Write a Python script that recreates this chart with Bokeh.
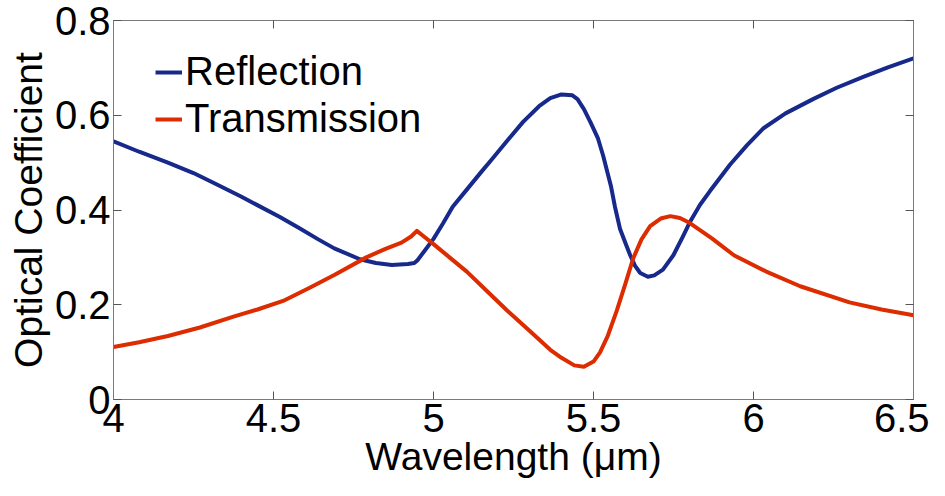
from bokeh.plotting import figure
from bokeh.models import LinearAxis, Legend, LegendItem, FixedTicker, Range1d
from bokeh.embed import file_html
from bokeh.resources import INLINE

# Reflection curve
refl_wl = [4.00, 4.08, 4.17, 4.25, 4.32, 4.40, 4.52, 4.58, 4.64, 4.69, 4.77, 4.82, 4.87,
           4.92, 4.94, 4.95, 4.97, 5.00, 5.03, 5.06, 5.104, 5.15, 5.18, 5.229, 5.28, 5.33,
           5.365, 5.40, 5.434, 5.45, 5.47, 5.49, 5.514, 5.53, 5.555, 5.567, 5.583, 5.60,
           5.615, 5.63, 5.646, 5.67, 5.69, 5.717, 5.75, 5.78, 5.80, 5.833, 5.864, 5.927,
           5.98, 6.03, 6.10, 6.186, 6.26, 6.343, 6.42, 6.50]
refl_val = [0.545, 0.523, 0.500, 0.478, 0.455, 0.428, 0.385, 0.362, 0.338, 0.319, 0.296, 0.288, 0.284,
            0.286, 0.288, 0.294, 0.312, 0.339, 0.372, 0.407, 0.443, 0.481, 0.505, 0.545, 0.586, 0.619,
            0.636, 0.644, 0.642, 0.634, 0.613, 0.586, 0.551, 0.515, 0.449, 0.407, 0.360, 0.330,
            0.304, 0.282, 0.267, 0.259, 0.262, 0.274, 0.305, 0.345, 0.373, 0.411, 0.440, 0.496,
            0.537, 0.572, 0.604, 0.634, 0.658, 0.681, 0.701, 0.720]

# Transmission curve
trans_wl = [4.00, 4.08, 4.17, 4.27, 4.375, 4.45, 4.53, 4.61, 4.69, 4.79, 4.85, 4.90, 4.93,
            4.948, 4.97, 5.00, 5.05, 5.104, 5.17, 5.23, 5.30, 5.365, 5.40, 5.44, 5.47, 5.50,
            5.52, 5.545, 5.573, 5.60, 5.624, 5.65, 5.677, 5.71, 5.74, 5.77, 5.80, 5.87, 5.94,
            6.04, 6.146, 6.30, 6.40, 6.50]
trans_val = [0.111, 0.121, 0.134, 0.152, 0.175, 0.190, 0.208, 0.235, 0.263, 0.300, 0.318, 0.331, 0.344,
             0.356, 0.344, 0.328, 0.300, 0.270, 0.227, 0.188, 0.145, 0.105, 0.088, 0.072, 0.069, 0.080,
             0.099, 0.135, 0.188, 0.245, 0.298, 0.338, 0.366, 0.382, 0.387, 0.383, 0.373, 0.340, 0.304,
             0.270, 0.239, 0.205, 0.190, 0.178]

x_ticks = [4, 4.5, 5, 5.5, 6, 6.5]
y_ticks = [0, 0.2, 0.4, 0.6, 0.8]

BLUE = "#172a8c"
RED = "#dc2c00"
FONT = "Liberation Sans"
AX = "#7a7a7a"

p = figure(width=929, height=480, output_backend="svg", toolbar_location=None,
           x_range=Range1d(4, 6.5), y_range=Range1d(0, 0.8),
           x_axis_location=None, y_axis_location=None,
           min_border_left=113, min_border_right=16, min_border_top=20, min_border_bottom=78)
p.xgrid.visible = False
p.ygrid.visible = False
p.outline_line_color = AX
p.outline_line_width = 1
p.background_fill_color = "white"
p.border_fill_color = "white"

def style(ax, labels=True):
    ax.axis_line_color = AX
    ax.major_tick_line_color = "#555555"
    ax.major_tick_in = 8
    ax.major_tick_out = 0
    ax.minor_tick_line_color = None
    ax.major_label_text_font = FONT
    ax.major_label_text_color = "black"
    ax.axis_label_text_font = FONT
    ax.axis_label_text_font_style = "normal"
    ax.axis_label_text_color = "black"
    if labels:
        ax.major_label_text_font_size = "40px"
        ax.axis_label_text_font_size = "39px"
    else:
        ax.major_label_text_font_size = "1px"
        ax.major_label_standoff = 0

xb = LinearAxis(ticker=FixedTicker(ticks=x_ticks), axis_label="Wavelength (μm)")
style(xb)
xb.major_label_standoff = 4
xb.axis_label_standoff = 0
p.add_layout(xb, "below")

yl = LinearAxis(ticker=FixedTicker(ticks=y_ticks), axis_label="Optical Coefficient")
style(yl)
yl.major_label_standoff = 3
yl.axis_label_standoff = 2
p.add_layout(yl, "left")

xa = LinearAxis(ticker=FixedTicker(ticks=x_ticks),
                major_label_overrides={t: "" for t in x_ticks})
style(xa, labels=False)
p.add_layout(xa, "above")

yr = LinearAxis(ticker=FixedTicker(ticks=y_ticks),
                major_label_overrides={t: "" for t in y_ticks})
style(yr, labels=False)
p.add_layout(yr, "right")

r1 = p.line(refl_wl, refl_val, line_color=BLUE, line_width=4, line_join="round")
r2 = p.line(trans_wl, trans_val, line_color=RED, line_width=4, line_join="round")

legend = Legend(items=[LegendItem(label="Reflection", renderers=[r1]),
                       LegendItem(label="Transmission", renderers=[r2])],
                location=(42, 258), padding=0, margin=0, spacing=2,
                glyph_width=27, glyph_height=40, label_standoff=3,
                label_text_font=FONT, label_text_font_size="40px",
                label_text_color="black",
                border_line_color=None, background_fill_alpha=0)
p.add_layout(legend, "center")

open("out.html", "w").write(file_html(p, INLINE))
